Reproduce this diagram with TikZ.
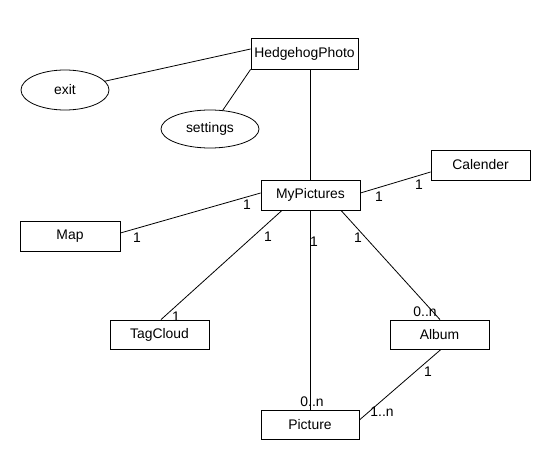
\documentclass[tikz,border=0pt]{standalone}
\usepackage{fontspec}
\setmainfont{Liberation Sans}
\usetikzlibrary{shapes.geometric,calc}
\begin{document}
\begin{tikzpicture}[x=1pt,y=-1pt,
  every node/.style={font=\fontsize{13.9}{16}\selectfont, inner sep=0pt},
  box/.style={draw, line width=0.8pt, minimum width=99pt, minimum height=30pt},
  oval/.style={draw, ellipse, line width=0.8pt},
  conn/.style={line width=0.8pt},
  mult/.style={}]
\useasboundingbox[fill=white] (0,0) rectangle (550,460);
% boxes
\node[box, minimum width=107pt, minimum height=31pt] (hp) at (304.5,53.5) {HedgehogPhoto};
\node[box] (mp) at (310.5,195) {MyPictures};
\node[box] (cal) at (480.5,165) {Calender};
\node[box, minimum width=100pt] (map) at (70,236) {Map};
\node[box, minimum height=29pt] (tag) at (159.5,334.5) {TagCloud};
\node[box, minimum height=29pt] (alb) at (439.5,334.5) {Album};
\node[box, minimum width=98pt, minimum height=29pt] (pic) at (310,424.5) {Picture};
% ellipses
\node[oval, minimum width=88pt, minimum height=40pt] (exit) at (65,90) {exit};
\node[oval, minimum width=98pt, minimum height=38pt] (set) at (210,129) {settings};
% connectors
\draw[conn] (exit) -- ($(hp.west)+(0,-4.5)$);
\draw[conn] (set) -- (hp.south west);
\draw[conn] (mp.north) -- (mp.north |- hp.south);
\draw[conn] ($(map.east)+(0,-3)$) -- ($(mp.west)+(0,-2)$);
\draw[conn] ($(mp.east)+(0,-2)$) -- ($(cal.west)+(0,7)$);
\draw[conn] ($(mp.south)+(-28.5,0)$) -- ($(tag.north)+(1.5,0)$);
\draw[conn] (mp.south) -- (mp.south |- pic.north);
\draw[conn] ($(mp.south)+(30.5,0)$) -- ($(alb.north)+(0.5,0)$);
\draw[conn] ($(alb.south)+(1.5,0)$) -- ($(pic.east)+(0,-4.5)$);
% multiplicities
\node[mult] (m1) at (137,238) {1};
\node[mult] (m2) at (247,205) {1};
\node[mult] (m3) at (379,197) {1};
\node[mult] (m4) at (419,185) {1};
\node[mult] (m5) at (268,237) {1};
\node[mult] (m6) at (314,242) {1};
\node[mult] (m7) at (358,238) {1};
\node[mult] (m8) at (176,317) {1};
\node[mult] (m9) at (425,312) {0..n};
\node[mult] (m10) at (312,402) {0..n};
\node[mult] (m11) at (428,372) {1};
\node[mult] (m12) at (382,412) {1..n};
\end{tikzpicture}
\end{document}
